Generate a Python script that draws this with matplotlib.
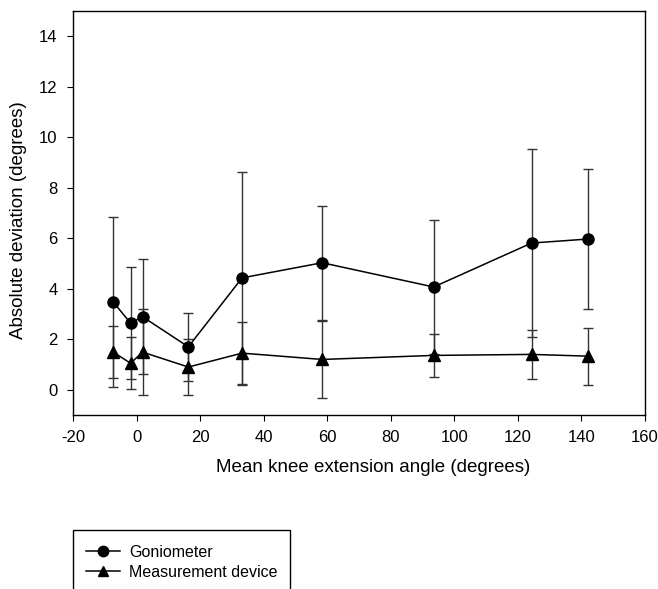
import matplotlib
matplotlib.use("Agg")
import matplotlib.pyplot as plt
from matplotlib.patches import Rectangle
from matplotlib.lines import Line2D

plt.rcParams['font.family'] = ['Liberation Sans', 'DejaVu Sans']
plt.rcParams['axes.unicode_minus'] = False

angle = [-7.3, -1.9, 1.9, 16.3, 33.2, 58.4, 93.5, 124.3, 142.2]
gonio_mean = [3.47, 2.64, 2.89, 1.70, 4.43, 5.03, 4.07, 5.81, 5.97]
gonio_sd = [3.37, 2.23, 2.28, 1.35, 4.19, 2.26, 2.65, 3.72, 2.79]
device_mean = [1.49, 1.05, 1.49, 0.90, 1.45, 1.20, 1.36, 1.40, 1.33]
device_sd = [1.04, 1.02, 1.70, 1.11, 1.25, 1.53, 0.85, 0.97, 1.13]

W, H = 658, 589
fig = plt.figure(figsize=(W / 100, H / 100), dpi=100)
ax = fig.add_axes([73 / W, 1 - 415 / H, (645 - 73) / W, (415 - 11) / H])

ax.errorbar(angle, gonio_mean, yerr=gonio_sd, fmt='none', ecolor='#333333',
            elinewidth=1.0, capsize=3.5, capthick=1.0, zorder=1)
ax.errorbar(angle, device_mean, yerr=device_sd, fmt='none', ecolor='#333333',
            elinewidth=1.0, capsize=3.5, capthick=1.0, zorder=1)
ax.plot(angle, gonio_mean, '-o', color='black', lw=1.1, ms=8, zorder=3,
        label='Goniometer')
ax.plot(angle, device_mean, '-^', color='black', lw=1.1, ms=8, zorder=3,
        label='Measurement device')

ax.set_xlim(-20, 160)
ax.set_ylim(-1, 15)
ax.set_xticks(range(-20, 161, 20))
ax.set_yticks(range(0, 15, 2))
ax.tick_params(direction='out', length=4, width=0.8, labelsize=12, pad=7)
for s in ax.spines.values():
    s.set_linewidth(1.0)
ax.set_xlabel('Mean knee extension angle (degrees)', fontsize=13.5)
ax.set_ylabel('Absolute deviation (degrees)', fontsize=13.5)
ax.xaxis.set_label_coords(0.524, -0.11)
ax.yaxis.set_label_coords(-0.08, 0.483)

# legend box (extends past the bottom edge like the reference)
fig.patches.append(Rectangle((73 / W, -0.05), (290 - 73) / W, (0.05 + 1 - 530 / H),
                             transform=fig.transFigure, fill=False,
                             edgecolor='black', linewidth=1.0))
handles = [Line2D([], [], color='black', marker='o', lw=1.1, ms=7.5),
           Line2D([], [], color='black', marker='^', lw=1.1, ms=7.5)]
fig.legend(handles, ['Goniometer', 'Measurement device'], loc='upper left',
           bbox_to_anchor=(78 / W, 1 - 537 / H), frameon=False, fontsize=11.5,
           handlelength=2.1, handletextpad=0.6, labelspacing=0.3,
           borderpad=0.0)

fig.savefig('out.png', dpi=100)
